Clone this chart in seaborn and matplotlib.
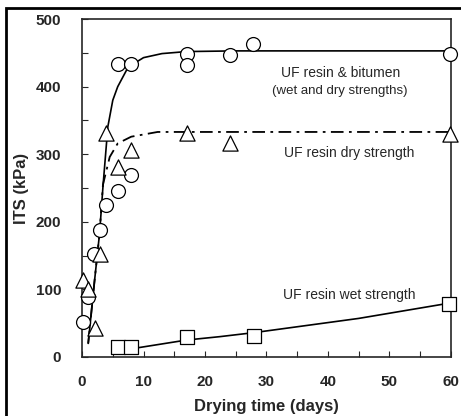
import pandas as pd
import matplotlib.pyplot as plt
import seaborn as sns
from matplotlib.patches import Rectangle
from matplotlib.ticker import MultipleLocator

sns.set_style("ticks")
plt.rcParams['font.family'] = ['Liberation Sans', 'DejaVu Sans']

# measured points
bit_days = [0.2, 1.0, 2.0, 2.9, 3.9, 5.9, 8.0, 5.9, 8.0, 17.0, 17.0, 24.0, 27.8, 59.8]
bit_its = [52, 88, 153, 188, 225, 245, 269, 434, 434, 449, 432, 447, 463, 449]

dry_days = [0.2, 1.0, 2.1, 2.9, 3.9, 5.9, 8.0, 17.0, 24.0, 59.8]
dry_its = [114, 100, 43, 153, 331, 281, 306, 332, 317, 330]

wet_days = [5.9, 7.9, 17.0, 27.9, 59.7]
wet_its = [14, 14, 30, 31, 79]

# fitted curves
bit_fit_days = [1.0, 2.0, 2.85, 3.4, 4.2, 5.0, 5.8, 7.5, 10, 13, 17, 25, 40, 60]
bit_fit_its = [20, 110, 183, 252, 341, 380, 400, 429, 443, 449, 452, 453, 453, 453]

dry_fit_days = [1.0, 2.0, 2.85, 3.4, 4.5, 5.8, 8.0, 12.3, 18, 30, 60]
dry_fit_its = [20, 110, 183, 255, 296, 316, 326, 333, 333, 333, 333]

wet_fit_days = [8.0, 17.0, 22.4, 28.0, 45.0, 60.0]
wet_fit_its = [12, 25, 30, 36, 57, 80]

fig = plt.figure(figsize=(4.61, 4.16), dpi=100)
ax = fig.add_axes([0.178, 0.142, 0.8, 0.812])

sns.lineplot(x=bit_fit_days, y=bit_fit_its, ax=ax, color='black', lw=1.2)
sns.lineplot(x=dry_fit_days, y=dry_fit_its, ax=ax, color='black', lw=1.3,
             dashes=False, linestyle=(0, (7, 3, 1.5, 3)))
sns.lineplot(x=wet_fit_days, y=wet_fit_its, ax=ax, color='black', lw=1.2)

mk = dict(facecolor='white', edgecolor='black', linewidth=0.9, zorder=5, ax=ax, clip_on=False)
sns.scatterplot(x=bit_days, y=bit_its, marker='o', s=100, **mk)
sns.scatterplot(x=dry_days, y=dry_its, marker='^', s=120, **mk)
sns.scatterplot(x=wet_days, y=wet_its, marker='s', s=95, **mk)

ax.set_xlim(0, 60)
ax.set_ylim(0, 500)
ax.xaxis.set_major_locator(MultipleLocator(10))
ax.xaxis.set_minor_locator(MultipleLocator(5))
ax.yaxis.set_major_locator(MultipleLocator(100))
ax.yaxis.set_minor_locator(MultipleLocator(50))
ax.tick_params(which='both', direction='in', length=4, width=0.8)
ax.tick_params(axis='x', pad=13)
ax.tick_params(axis='y', pad=15)
for lab in ax.get_xticklabels() + ax.get_yticklabels():
    lab.set_fontweight('bold')
    lab.set_fontsize(11)
for sp in ax.spines.values():
    sp.set_visible(True)
    sp.set_linewidth(1.2)

ax.set_xlabel('Drying time (days)', fontsize=12, fontweight='bold', labelpad=7)
ax.set_ylabel('ITS (kPa)', fontsize=12, fontweight='bold', labelpad=5)

ax.text(42, 421, 'UF resin & bitumen', ha='center', va='center', fontsize=10)
ax.text(42, 394, '(wet and dry strengths)', ha='center', va='center', fontsize=9.5)
ax.text(43.4, 302, 'UF resin dry strength', ha='center', va='center', fontsize=10)
ax.text(43.4, 92, 'UF resin wet strength', ha='center', va='center', fontsize=10)

fig.patches.append(Rectangle((6 / 461, -0.1), 1.2, 1 - 8 / 416 + 0.1, transform=fig.transFigure,
                             fill=False, edgecolor='black', linewidth=2))

fig.savefig('out.png', dpi=100)
